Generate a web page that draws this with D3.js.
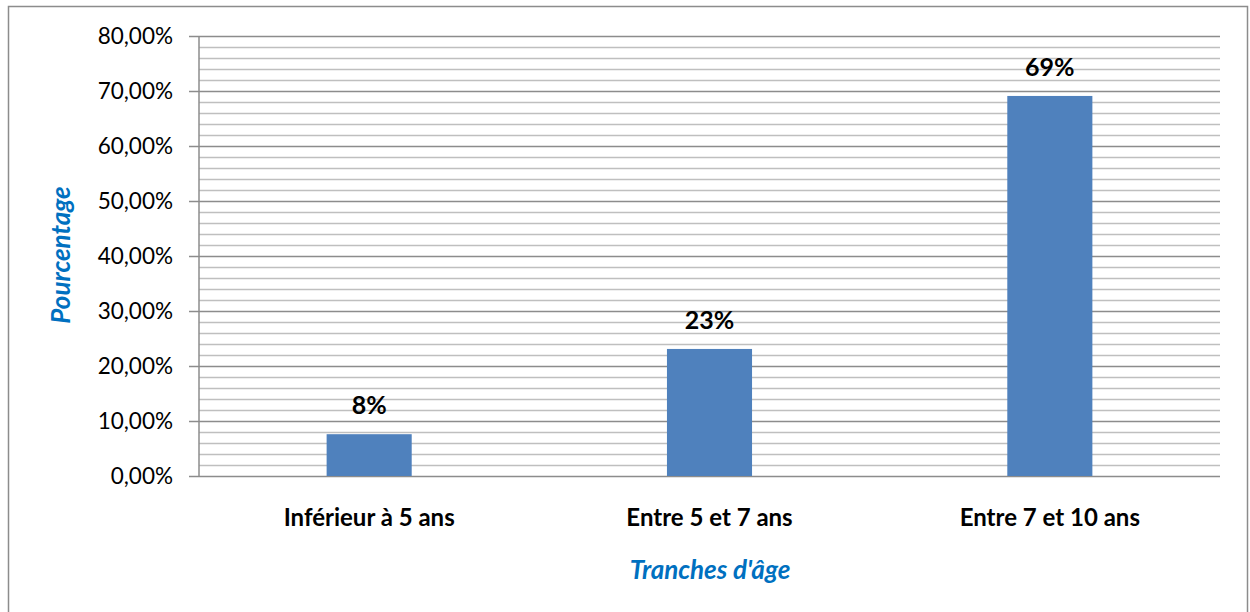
<!DOCTYPE html>
<html>
<head>
<meta charset="utf-8">
<script src="https://d3js.org/d3.v7.min.js"></script>
<style>
  body { margin: 0; background: #fff; }
  svg { font-family: Lato, "Open Sans", sans-serif; }
</style>
<title>Tranches d'âge</title>
</head>
<body>
<svg width="1250" height="612"></svg>
<script>
// data
const categories = ["Inférieur à 5 ans", "Entre 5 et 7 ans", "Entre 7 et 10 ans"];
const values = [0.076, 0.231, 0.691];
const valueLabels = ["8%", "23%", "69%"];
const yTicks = [0, 0.1, 0.2, 0.3, 0.4, 0.5, 0.6, 0.7, 0.8];

const svg = d3.select("svg");

// outer frame
svg.append("rect")
  .attr("x", 8.5).attr("y", 6.5)
  .attr("width", 1239).attr("height", 620)
  .attr("fill", "#fff")
  .attr("stroke", "#8c8c8c").attr("stroke-width", 1.5);

const plotL = 199, plotR = 1220, plotT = 36, plotB = 476;

const x = d3.scaleBand().domain(categories).range([plotL, plotR]).paddingInner(0.75).paddingOuter(0.375);
const y = d3.scaleLinear().domain([0, 0.8]).range([plotB, plotT]);

// minor grid every 2%
const minor = d3.range(0, 0.8001, 0.02).filter(v => Math.round(v * 100) % 10 !== 0);
svg.append("g").selectAll("line").data(minor).join("line")
  .attr("x1", plotL).attr("x2", plotR)
  .attr("y1", d => Math.round(y(d)) + 0.5).attr("y2", d => Math.round(y(d)) + 0.5)
  .attr("stroke", "#bfbfbf").attr("stroke-width", 1.5);

// major grid
svg.append("g").selectAll("line").data(yTicks).join("line")
  .attr("x1", plotL - 10).attr("x2", plotR)
  .attr("y1", d => Math.round(y(d)) + 0.5).attr("y2", d => Math.round(y(d)) + 0.5)
  .attr("stroke", "#8c8c8c").attr("stroke-width", 1.5);

// y axis line
svg.append("line")
  .attr("x1", plotL).attr("x2", plotL)
  .attr("y1", plotT).attr("y2", plotB)
  .attr("stroke", "#8c8c8c").attr("stroke-width", 1.5);

// y tick labels
const fmt = d => d3.format(".2f")(d * 100).replace(".", ",") + "%";
svg.append("g").selectAll("text").data(yTicks).join("text")
  .attr("x", 173).attr("y", d => y(d))
  .attr("dy", "0.36em")
  .attr("text-anchor", "end")
  .attr("font-size", "22.5px").attr("fill", "#000")
  .text(fmt);

// bars
svg.append("g").selectAll("rect").data(values).join("rect")
  .attr("x", (d, i) => x(categories[i]))
  .attr("width", x.bandwidth())
  .attr("y", d => y(d))
  .attr("height", d => plotB - y(d))
  .attr("fill", "#4f81bd");

// value labels
svg.append("g").selectAll("text").data(values).join("text")
  .attr("x", (d, i) => x(categories[i]) + x.bandwidth() / 2)
  .attr("y", d => y(d) - 20)
  .attr("text-anchor", "middle")
  .attr("font-size", "25px").attr("font-weight", "bold")
  .text((d, i) => valueLabels[i]);

// category labels
svg.append("g").selectAll("text").data(categories).join("text")
  .attr("x", d => x(d) + x.bandwidth() / 2)
  .attr("y", 526)
  .attr("text-anchor", "middle")
  .attr("font-size", "24px").attr("font-weight", "bold")
  .text(d => d);

// axis titles
svg.append("text")
  .attr("x", 710).attr("y", 579)
  .attr("text-anchor", "middle")
  .attr("font-size", "26px").attr("font-weight", "bold").attr("font-style", "italic")
  .attr("fill", "#0070c0")
  .text("Tranches d'âge");

svg.append("text")
  .attr("transform", "translate(70,255) rotate(-90)")
  .attr("text-anchor", "middle")
  .attr("font-size", "26px").attr("font-weight", "bold").attr("font-style", "italic")
  .attr("fill", "#0070c0")
  .text("Pourcentage");
</script>
</body>
</html>
